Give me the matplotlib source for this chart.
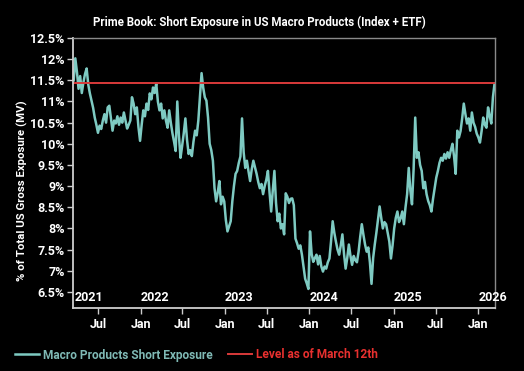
import matplotlib
matplotlib.use("Agg")
import matplotlib.pyplot as plt
import matplotlib.transforms as mtransforms
import pandas as pd

# weekly readings, % of total US gross exposure
values = [
    11.50, 12.02, 11.70, 11.30, 11.60, 11.20, 11.45, 11.65, 11.78, 11.40,
    11.19, 11.02, 10.85, 10.62, 10.45, 10.26, 10.43, 10.35, 10.55, 10.70,
    10.50, 10.86, 10.90, 10.60, 10.31, 10.55, 10.48, 10.65, 10.45, 10.62,
    10.50, 10.74, 10.55, 10.36, 10.45, 10.55, 11.10, 10.95, 10.70, 10.86,
    10.40, 10.07, 10.45, 10.79, 10.65, 10.95, 10.80, 11.19, 11.05, 11.33,
    11.20, 11.43, 11.00, 10.79, 10.95, 10.60, 10.79, 10.55, 10.38, 10.79,
    10.50, 10.25, 10.05, 9.83, 11.00, 10.20, 9.67, 9.95, 10.25, 10.60,
    10.10, 9.76, 9.85, 9.71, 10.05, 10.31, 10.20, 10.55, 11.10, 11.67,
    11.33, 11.10, 11.02, 10.62, 10.00, 9.85, 9.60, 8.95, 8.64, 8.85,
    9.12, 8.57, 8.75, 8.64, 8.20, 7.93, 8.05, 8.17, 8.64, 9.00,
    9.29, 9.36, 9.55, 9.70, 10.60, 9.80, 9.43, 9.60, 9.35, 9.12,
    9.40, 9.60, 9.45, 9.29, 9.10, 8.95, 9.05, 8.81, 9.00, 9.15,
    9.36, 8.85, 8.40, 8.90, 9.36, 8.60, 8.17, 8.35, 8.00, 8.10,
    7.86, 8.83, 8.75, 8.60, 8.70, 8.71, 8.55, 7.76, 7.65, 7.52,
    7.60, 7.38, 7.10, 6.81, 6.70, 6.57, 7.93, 7.40, 7.21, 7.30,
    7.38, 7.15, 7.35, 7.10, 6.98, 7.10, 7.05, 7.20, 7.29, 7.70,
    8.17, 7.90, 7.69, 7.50, 7.38, 7.60, 7.86, 7.40, 7.05, 7.30,
    7.62, 7.35, 7.14, 7.35, 7.25, 7.20, 7.45, 7.80, 8.10, 7.85,
    7.62, 7.45, 7.55, 7.20, 6.69, 7.30, 7.62, 7.90, 8.20, 8.52,
    8.25, 8.00, 8.15, 8.10, 7.90, 7.69, 7.29, 7.60, 8.00, 8.25,
    8.40, 8.15, 8.24, 8.40, 8.10, 8.50, 8.81, 9.43, 8.90, 8.57,
    9.40, 10.62, 9.67, 9.80, 9.50, 9.36, 8.95, 9.10, 8.81, 8.65,
    8.55, 8.40, 8.70, 8.95, 9.20, 9.36, 9.55, 9.67, 9.60, 9.76,
    9.65, 9.80, 9.67, 9.85, 10.00, 9.70, 9.29, 10.31, 10.15, 10.30,
    10.60, 10.95, 10.70, 10.48, 10.60, 10.31, 10.74, 10.50, 10.40, 10.24,
    10.15, 10.03, 10.30, 10.62, 10.45, 10.38, 10.86, 10.65, 10.48, 11.10,
    11.42,
]
dates = pd.date_range(end="2026-03-12", periods=len(values), freq="7D")
march_level = 11.44

years = [2021, 2022, 2023, 2024, 2025, 2026]
month_ticks = pd.to_datetime(["2021-07-01", "2022-01-01", "2022-07-01", "2023-01-01", "2023-07-01",
                              "2024-01-01", "2024-07-01", "2025-01-01", "2025-07-01", "2026-01-01"])
month_labels = ["Jul", "Jan", "Jul", "Jan", "Jul", "Jan", "Jul", "Jan", "Jul", "Jan"]
y_ticks = [6.5, 7, 7.5, 8, 8.5, 9, 9.5, 10, 10.5, 11, 11.5, 12, 12.5]

teal = "#7ecac2"
red = "#d93a3a"
plt.rcParams["font.family"] = ["Roboto", "DejaVu Sans"]
plt.rcParams["font.weight"] = "bold"

fig = plt.figure(figsize=(5.24, 3.71), dpi=100, facecolor="black")
ax = fig.add_axes([73/524, 1 - 308/371, 422/524, 270/371], facecolor="black")

ax.plot(dates, values, color=teal, lw=1.8, label="Macro Products Short Exposure")
ax.axhline(march_level, color=red, lw=1.4, label="Level as of March 12th")

ax.set_xlim(pd.Timestamp("2021-03-15"), pd.Timestamp("2026-03-14"))
ax.set_ylim(6.12, 12.5)

ax.set_yticks(y_ticks)
ax.set_yticklabels([f"{v:g}%" for v in y_ticks])
ax.set_xticks(month_ticks)
ax.set_xticklabels(month_labels)
ax.tick_params(colors="#cccccc", labelcolor="white", labelsize=9, length=4, width=1)
ax.tick_params(axis="x", pad=3)
ax.tick_params(axis="y", pad=2)

for s in ["left", "bottom"]:
    ax.spines[s].set_color("#cfcfcf")
    ax.spines[s].set_linewidth(1.3)
for s in ["top", "right"]:
    ax.spines[s].set_color("#8a8a8a")
    ax.spines[s].set_linewidth(1.0)

# year labels sit just above the bottom axis
trans = mtransforms.blended_transform_factory(ax.transData, ax.transAxes)
for yr in years:
    x = pd.Timestamp(f"{yr}-01-01")
    if yr == 2021:
        x = pd.Timestamp("2021-03-22")
    ax.text(x, 0.015, str(yr), transform=trans, ha="left", va="bottom",
            color="white", fontsize=9, fontweight="bold", clip_on=False)

fig.text(259/524, 1 - 22/371, "Prime Book: Short Exposure in US Macro Products (Index + ETF)",
         ha="center", va="center", color="white", fontsize=8.3, fontweight="bold")
fig.text(22/524, 1 - 191/371, "% of Total US Gross Exposure (MV)", rotation=90,
         ha="center", va="center", color="white", fontsize=8.2, fontweight="bold")

leg = fig.legend(loc="center left", bbox_to_anchor=(4/524, 1 - 355/371), ncol=2, frameon=False,
                 fontsize=8.6, handlelength=2.0, handletextpad=0.35, columnspacing=1.3,
                 labelcolor=["#7fb9b5", "#e8302f"])

fig.savefig("out.png", dpi=100, facecolor="black")
